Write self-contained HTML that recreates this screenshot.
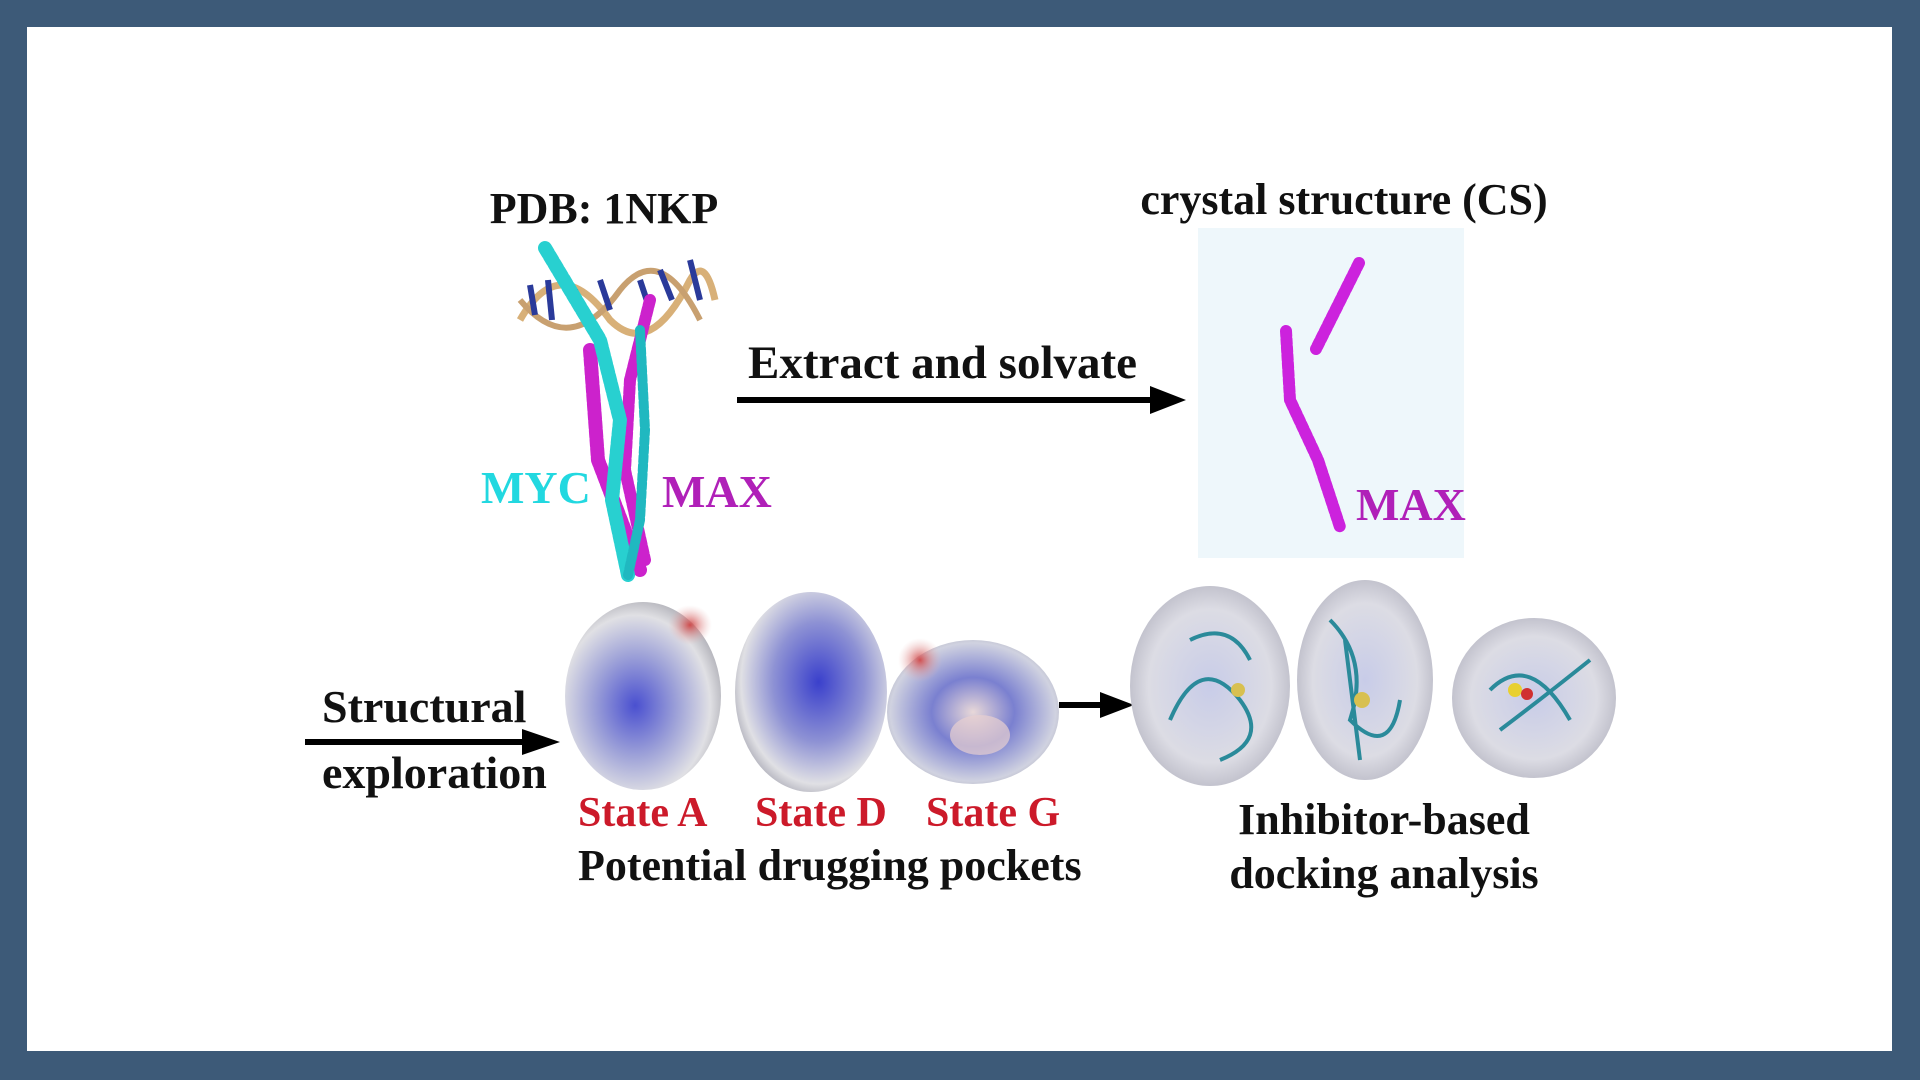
<!DOCTYPE html>
<html><head><meta charset="utf-8"><style>
html,body{margin:0;padding:0;width:1920px;height:1080px;overflow:hidden;background:#3d5a78}
</style></head><body>
<svg width="1920" height="1080" viewBox="0 0 1920 1080" xmlns="http://www.w3.org/2000/svg" style="position:absolute;left:0;top:0">
<defs>
<radialGradient id="sa" cx="45%" cy="55%" r="60%"><stop offset="0" stop-color="#4a50d0"/><stop offset="0.45" stop-color="#9ea2d8"/><stop offset="0.8" stop-color="#e0e0e4"/><stop offset="1" stop-color="#a8a8b0"/></radialGradient>
<radialGradient id="sd" cx="55%" cy="45%" r="60%"><stop offset="0" stop-color="#3a40cc"/><stop offset="0.5" stop-color="#8e92d4"/><stop offset="0.85" stop-color="#e0e0e4"/><stop offset="1" stop-color="#a8a8b4"/></radialGradient>
<radialGradient id="sg" cx="50%" cy="50%" r="60%"><stop offset="0" stop-color="#e8d8d8"/><stop offset="0.4" stop-color="#7a80d0"/><stop offset="0.8" stop-color="#d0d2e0"/><stop offset="1" stop-color="#a0a0ae"/></radialGradient>
<radialGradient id="dk" cx="50%" cy="50%" r="55%"><stop offset="0" stop-color="#c8cce8"/><stop offset="0.7" stop-color="#dcdce4"/><stop offset="1" stop-color="#b8b8c4"/></radialGradient>
<radialGradient id="red" cx="50%" cy="50%" r="50%"><stop offset="0" stop-color="#d04040" stop-opacity="0.9"/><stop offset="1" stop-color="#e8b8b8" stop-opacity="0"/></radialGradient>
</defs>
<rect x="27" y="27" width="1865" height="1024" fill="#fff"/>
<rect x="1198" y="228" width="266" height="330" fill="#eef7fb"/>

<g font-family="Liberation Serif, serif" font-weight="bold">
<text x="604" y="223" font-size="44" text-anchor="middle" fill="#111">PDB: 1NKP</text>
<text x="1344" y="214" font-size="44" text-anchor="middle" fill="#111">crystal structure (CS)</text>
<text x="748" y="378" font-size="47" fill="#111">Extract and solvate</text>
<text x="481" y="503" font-size="46" fill="#22d8e0">MYC</text>
<text x="662" y="507" font-size="46" fill="#b020b8">MAX</text>
<text x="1356" y="520" font-size="46" fill="#b020b8">MAX</text>
<text x="322" y="722" font-size="46" fill="#111">Structural</text>
<text x="322" y="788" font-size="46" fill="#111">exploration</text>
<text x="578" y="826" font-size="42" fill="#cc1a2a">State A</text>
<text x="755" y="826" font-size="42" fill="#cc1a2a">State D</text>
<text x="926" y="826" font-size="42" fill="#cc1a2a">State G</text>
<text x="578" y="880" font-size="44" fill="#111">Potential drugging pockets</text>
<text x="1384" y="834" font-size="44" text-anchor="middle" fill="#111">Inhibitor-based</text>
<text x="1384" y="888" font-size="44" text-anchor="middle" fill="#111">docking analysis</text>
</g>

<line x1="737" y1="400" x2="1160" y2="400" stroke="#000" stroke-width="6"/>
<path d="M1150,386 L1186,400 L1150,414 Z" fill="#000"/>
<line x1="305" y1="742" x2="530" y2="742" stroke="#000" stroke-width="6"/>
<path d="M522,729 L560,742 L522,755 Z" fill="#000"/>
<line x1="1059" y1="705" x2="1108" y2="705" stroke="#000" stroke-width="6"/>
<path d="M1100,692 L1134,705 L1100,718 Z" fill="#000"/>

<g fill="none">
<path d="M520,320 Q560,250 610,320 Q650,360 690,280 Q705,255 715,300" stroke="#d8b078" stroke-width="7"/>
<path d="M520,300 Q570,360 620,290 Q660,240 700,320" stroke="#c8a070" stroke-width="6"/>
<g stroke="#2a3a9a" stroke-width="6">
<line x1="530" y1="285" x2="535" y2="315"/><line x1="548" y1="280" x2="552" y2="320"/><line x1="575" y1="290" x2="585" y2="320"/><line x1="600" y1="280" x2="610" y2="310"/><line x1="640" y1="280" x2="650" y2="310"/><line x1="660" y1="270" x2="672" y2="300"/><line x1="690" y1="260" x2="700" y2="300"/>
</g>
</g>
<g fill="none" stroke-linecap="round" stroke-linejoin="round">
<path d="M590,350 L598,460 L640,570" stroke="#cc22cc" stroke-width="14" stroke-dasharray="6 3"/>
<path d="M650,300 L630,380 L625,470 L645,560" stroke="#cc22cc" stroke-width="12" stroke-dasharray="6 3"/>
<path d="M545,248 L600,340 L620,420 L612,500 L628,575" stroke="#28d0d0" stroke-width="14" stroke-dasharray="6 3"/>
<path d="M640,330 L645,430 L640,520 L628,575" stroke="#20b8c0" stroke-width="10" stroke-dasharray="6 3"/>
<path d="M1359,263 L1316,349" stroke="#cc22dd" stroke-width="12" stroke-dasharray="5 3"/>
<path d="M1286,331 L1290,400 L1318,460 L1340,527" stroke="#cc22dd" stroke-width="12" stroke-dasharray="5 3"/>
</g>

<ellipse cx="643" cy="696" rx="78" ry="94" fill="url(#sa)"/>
<ellipse cx="690" cy="625" rx="22" ry="20" fill="url(#red)"/>
<ellipse cx="811" cy="692" rx="76" ry="100" fill="url(#sd)"/>
<ellipse cx="973" cy="712" rx="86" ry="72" fill="url(#sg)"/>
<ellipse cx="920" cy="660" rx="22" ry="22" fill="url(#red)"/>
<ellipse cx="980" cy="735" rx="30" ry="20" fill="#e8d0d0" opacity="0.7"/>

<ellipse cx="1210" cy="686" rx="80" ry="100" fill="url(#dk)"/>
<ellipse cx="1365" cy="680" rx="68" ry="100" fill="url(#dk)"/>
<ellipse cx="1534" cy="698" rx="82" ry="80" fill="url(#dk)"/>
<g fill="none" stroke="#2a8a9a" stroke-width="4">
<path d="M1170,720 Q1200,650 1240,700 Q1270,740 1220,760 M1190,640 Q1230,620 1250,660"/>
<path d="M1330,620 Q1370,660 1350,720 Q1390,760 1400,700 M1345,640 L1360,760"/>
<path d="M1490,690 Q1530,650 1570,720 M1500,730 Q1540,700 1590,660"/>
</g>
<circle cx="1238" cy="690" r="7" fill="#d8c050"/>
<circle cx="1362" cy="700" r="8" fill="#d8c050"/>
<circle cx="1515" cy="690" r="7" fill="#e8d030"/>
<circle cx="1527" cy="694" r="6" fill="#d03030"/>
</svg>
</body></html>
